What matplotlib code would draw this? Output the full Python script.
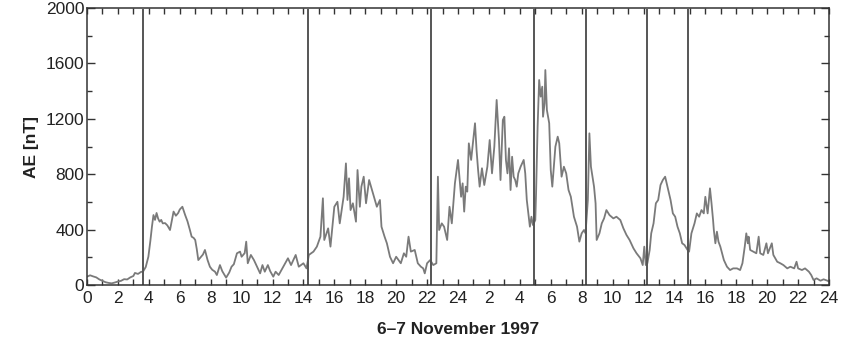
import matplotlib.pyplot as plt
import numpy as np

plt.rcParams['font.family'] = ['Liberation Sans', 'DejaVu Sans']

# AE index, hours since 0 UT on 6 November 1997
hours = [0.0, 0.2, 0.4, 0.6, 0.8, 1.0, 1.2, 1.4, 1.6, 1.8, 2.0, 2.2, 2.4, 2.6, 2.8, 3.0, 3.1, 3.3, 3.5, 3.62,
         3.8, 3.97, 4.1, 4.2, 4.3, 4.4, 4.5, 4.6, 4.7, 4.8, 4.9, 5.05, 5.2, 5.37, 5.5, 5.6, 5.75, 5.9, 6.0, 6.17,
         6.3, 6.35, 6.5, 6.65, 6.77, 6.9, 7.0, 7.1, 7.2, 7.35, 7.5, 7.63, 7.8, 7.95, 8.1, 8.28, 8.4, 8.6, 8.75, 9.0,
         9.2, 9.35, 9.5, 9.7, 9.9, 10.0, 10.2, 10.3, 10.4, 10.6, 10.8, 11.0, 11.2, 11.35, 11.5, 11.7, 11.85, 12.05,
         12.2, 12.4, 12.7, 13.0, 13.2, 13.5, 13.7, 14.0, 14.2, 14.35, 14.65, 14.87, 15.1, 15.26, 15.35, 15.6, 15.75,
         16.0, 16.2, 16.35, 16.6, 16.75, 16.85, 16.95, 17.05, 17.2, 17.4, 17.5, 17.65, 17.75, 17.9, 18.05, 18.25,
         18.5, 18.75, 18.95, 19.05, 19.25, 19.4, 19.6, 19.8, 20.0, 20.3, 20.5, 20.65, 20.8, 20.95, 21.2, 21.4, 21.6,
         21.75, 21.85, 22.0, 22.2, 22.4, 22.6, 22.7, 22.78, 22.95, 23.1, 23.3, 23.45, 23.6, 23.8, 24.0, 24.2, 24.3,
         24.4, 24.5, 24.6, 24.7, 24.85, 25.1, 25.2, 25.3, 25.4, 25.55, 25.7, 25.9, 26.05, 26.2, 26.35, 26.5, 26.65,
         26.75, 26.9, 27.0, 27.1, 27.2, 27.3, 27.4, 27.5, 27.6, 27.7, 27.8, 27.9, 28.05, 28.25, 28.35, 28.45, 28.55,
         28.65, 28.75, 28.85, 29.0, 29.05, 29.15, 29.25, 29.35, 29.45, 29.5, 29.6, 29.65, 29.75, 29.9, 30.0, 30.1,
         30.2, 30.3, 30.45, 30.55, 30.7, 30.85, 31.0, 31.15, 31.3, 31.5, 31.7, 31.85, 32.0, 32.15, 32.25, 32.4, 32.5,
         32.6, 32.7, 32.8, 32.9, 32.97, 33.15, 33.3, 33.45, 33.6, 33.8, 34.05, 34.25, 34.5, 34.7, 34.9, 35.1, 35.35,
         35.55, 35.8, 35.95, 36.05, 36.15, 36.25, 36.4, 36.5, 36.65, 36.8, 36.95, 37.1, 37.25, 37.4, 37.5, 37.6,
         37.75, 37.9, 38.05, 38.2, 38.35, 38.5, 38.65, 38.85, 38.95, 39.1, 39.3, 39.45, 39.6, 39.75, 39.9, 40.0,
         40.15, 40.3, 40.4, 40.5, 40.55, 40.65, 40.75, 40.85, 40.97, 41.2, 41.4, 41.6, 41.8, 42.05, 42.25, 42.4,
         42.55, 42.65, 42.75, 42.8, 42.9, 43.1, 43.3, 43.45, 43.55, 43.75, 43.95, 44.05, 44.3, 44.4, 44.65, 44.85,
         45.05, 45.3, 45.5, 45.75, 45.9, 46.0, 46.25, 46.45, 46.7, 46.85, 47.0, 47.2, 47.45, 47.65, 47.9, 48.0]
ae = [60, 70, 62, 55, 40, 30, 20, 15, 12, 18, 25, 30, 42, 40, 55, 65, 87, 80, 95, 96,
      130, 204, 320, 420, 505, 470, 520, 480, 457, 470, 445, 447, 430, 397, 470, 530, 500, 520, 545, 565,
      520, 505, 460, 400, 349, 340, 325, 260, 180, 200, 220, 253, 180, 132, 110, 96, 72, 144, 100, 53,
      90, 132, 150, 229, 241, 204, 230, 313, 157, 217, 180, 132, 84, 144, 96, 144, 100, 60,
      96, 72, 132, 193, 144, 217, 132, 157, 120, 217, 241, 277, 349, 626, 325, 409, 277,
      565, 601, 445, 637, 878, 614, 770, 541, 590, 457, 830, 565, 710, 782, 590, 758,
      662, 565, 614, 421, 349, 301, 204, 157, 204, 157, 229, 204, 349, 241, 253, 157, 132,
      120, 84, 157, 180, 144, 157, 782, 397, 445, 421, 325, 565, 445, 734, 903, 637, 734,
      530, 710, 674, 1023, 903, 1168, 975, 830, 710, 843, 722, 854, 1047, 806, 999, 1336, 1047,
      758, 1191, 1215, 903, 806, 987, 686, 926, 782, 758, 710, 806, 854, 903, 806, 614, 517,
      421, 493, 433, 469, 662, 1143, 1480, 1360, 1432, 1215, 1312, 1552, 1264, 1168, 830, 710,
      854, 999, 1071, 1023, 782, 854, 806, 686, 637, 493, 421, 313, 373, 397, 373, 614, 1095,
      854, 782, 710, 590, 325, 373, 445, 481, 541, 505, 481, 493, 469, 409, 361, 325, 265,
      229, 193, 144, 277, 144, 157, 253, 373, 445, 590, 614, 722, 758, 782, 734, 686,
      614, 517, 493, 421, 373, 301, 289, 253, 241, 373, 445, 517, 493, 541, 517, 637,
      517, 698, 590, 469, 397, 301, 385, 313, 277, 180, 132, 108, 120, 120, 108, 157,
      277, 373, 301, 349, 253, 241, 229, 349, 229, 217, 301, 229, 301, 217, 168, 157,
      144, 120, 132, 120, 168, 120, 108, 120, 96, 72, 36, 48, 31, 41, 31, 25]

# vertical marker lines (hours)
events = [3.62, 14.28, 22.25, 28.94, 32.26, 36.23, 38.88]

xticks = np.arange(0, 49, 1)
xlabels = [str(h % 24 if h % 24 != 0 or h == 0 else 24) if h % 2 == 0 else "" for h in xticks]

fig = plt.figure(figsize=(8.41, 3.44), dpi=100)
ax = fig.add_axes([87/841, 1 - 285/344, (829-87)/841, (285-8)/344])

ax.plot(hours, ae, color="#7a7a7a", lw=1.3)
for e in events:
    ax.axvline(e, ymin=0, ymax=0.992, color="#555555", lw=1.4)

ax.set_xlim(0, 48)
ax.set_ylim(0, 2000)
ax.set_xticks(xticks)
ax.set_xticklabels(xlabels)
ax.set_yticks(np.arange(0, 2001, 400))
ax.set_yticks(np.arange(0, 2001, 200), minor=True)

ax.tick_params(axis="both", which="both", direction="in", top=True, right=True,
               labelsize=12.5, colors="#333333", labelcolor="#222222", width=1.0)
ax.tick_params(axis="x", which="major", length=4.5, pad=4)
ax.tick_params(axis="y", which="major", length=6, pad=2)
ax.tick_params(axis="y", which="minor", length=3.5)
for s in ax.spines.values():
    s.set_color("#333333")
    s.set_linewidth(1.1)

ax.set_ylabel("AE [nT]", fontsize=12.5, fontweight="bold", color="#222222", labelpad=5)
ax.set_xlabel("6\u20137 November 1997", fontsize=12.5, fontweight="bold", color="#222222", labelpad=12)

fig.savefig("out.png", dpi=100)
